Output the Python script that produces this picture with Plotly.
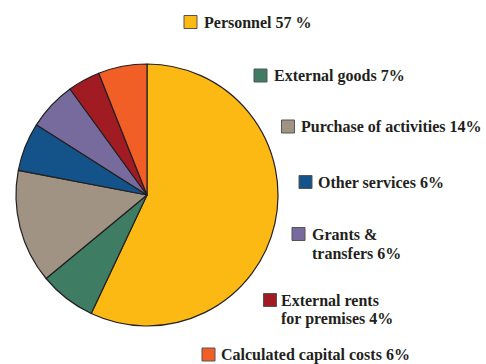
import plotly.graph_objects as go

# Cost breakdown, clockwise from 12 o'clock
categories = [
    "Personnel",
    "External goods",
    "Purchase of activities",
    "Other services",
    "Grants & transfers",
    "External rents for premises",
    "Calculated capital costs",
]
shares = [57, 7, 14, 6, 6, 4, 6]
label_lines = [
    ["Personnel 57 %"],
    ["External goods 7%"],
    ["Purchase of activities 14%"],
    ["Other services 6%"],
    ["Grants &", "transfers 6%"],
    ["External rents", "for premises 4%"],
    ["Calculated capital costs 6%"],
]
colors = ["#FDB913", "#3E7D64", "#A09383", "#14538A", "#776B9E", "#A11B23", "#F15E26"]

W, H = 486, 364
EDGE = "#231F20"
LINE_GAP = 19
FONT = dict(family="Liberation Serif", size=16, color=EDGE, weight="bold")

# Label placement in pixels: (square left, square centre y, text left)
label_pos = [
    (184, 22, 202),
    (254, 75.5, 272),
    (281.5, 126.5, 299),
    (299, 182, 316),
    (292, 234, 310),
    (263.5, 300, 279),
    (202, 354.5, 219),
]

fig = go.Figure(
    go.Pie(
        labels=categories,
        values=shares,
        sort=False,
        direction="clockwise",
        rotation=0,
        marker=dict(colors=colors, line=dict(color=EDGE, width=1.2)),
        textinfo="none",
        hoverinfo="label+percent",
        showlegend=False,
        domain=dict(x=[16 / W, 278 / W], y=[1 - 326 / H, 1 - 64 / H]),
    )
)

SQ = 13
shapes = []
annotations = []
for (sx, cy, tx), lines, col in zip(label_pos, label_lines, colors):
    shapes.append(
        dict(
            type="rect", xref="paper", yref="paper",
            x0=sx / W, x1=(sx + SQ) / W,
            y0=1 - (cy - SQ / 2) / H, y1=1 - (cy + SQ / 2) / H,
            fillcolor=col, line=dict(color="#555555", width=1),
        )
    )
    for i, line in enumerate(lines):
        annotations.append(
            dict(
                text=line, xref="paper", yref="paper",
                x=tx / W, y=1 - (cy + i * LINE_GAP) / H,
                xanchor="left", yanchor="middle", align="left",
                showarrow=False, font=FONT,
            )
        )

fig.update_layout(
    width=W, height=H,
    margin=dict(l=0, r=0, t=0, b=0),
    paper_bgcolor="white", plot_bgcolor="white",
    shapes=shapes, annotations=annotations,
)

fig.write_html("out.html")
